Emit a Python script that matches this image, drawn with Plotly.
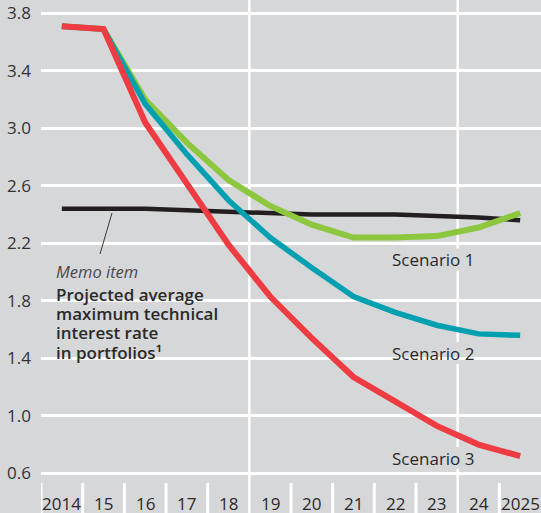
import plotly.graph_objects as go

years = [2014, 2015, 2016, 2017, 2018, 2019, 2020, 2021, 2022, 2023, 2024, 2025]
year_labels = ["2014", "15", "16", "17", "18", "19", "20", "21", "22", "23", "24", "2025"]

memo_line = [2.44, 2.44, 2.44, 2.43, 2.42, 2.41, 2.40, 2.40, 2.40, 2.39, 2.38, 2.36]
scenario1 = [3.71, 3.69, 3.20, 2.90, 2.64, 2.46, 2.33, 2.24, 2.24, 2.25, 2.31, 2.41]
scenario2 = [3.71, 3.69, 3.17, 2.82, 2.50, 2.24, 2.03, 1.83, 1.72, 1.63, 1.57, 1.56]
scenario3 = [3.71, 3.69, 3.04, 2.62, 2.19, 1.83, 1.54, 1.27, 1.10, 0.93, 0.80, 0.72]

y_ticks = [0.6, 1.0, 1.4, 1.8, 2.2, 2.6, 3.0, 3.4, 3.8]
y_tick_labels = ["0.6", "1.0", "1.4", "1.8", "2.2", "2.6", "3.0", "3.4", "3.8"]

scenario_labels = ["Scenario 1", "Scenario 2", "Scenario 3"]
memo_title = "Memo item"
memo_lines = ["Projected average", "maximum technical", "interest rate", "in portfolios\u00b9"]

BG = "#d6d7d9"
TXT = "#2b2a29"
FONT = "Open Sans"
W, H = 541, 513


def py(pix):
    return (H - pix) / H


def px(pix):
    return (pix - 41) / (W - 41)


fig = go.Figure()
fig.add_trace(go.Scatter(x=years, y=memo_line, mode="lines",
                         line=dict(color="#231f20", width=4.5), hoverinfo="skip"))
fig.add_trace(go.Scatter(x=years, y=scenario1, mode="lines",
                         line=dict(color="#8dc63f", width=6), hoverinfo="skip"))
fig.add_trace(go.Scatter(x=years, y=scenario2, mode="lines",
                         line=dict(color="#00a0b0", width=5.5), hoverinfo="skip"))
fig.add_trace(go.Scatter(x=years, y=scenario3, mode="lines",
                         line=dict(color="#ef3b42", width=6), hoverinfo="skip"))

shapes = []
full_lines = [2018.5, 2023.5]
for x in full_lines:
    shapes.append(dict(type="line", xref="x", yref="paper", x0=x, x1=x, y0=0, y1=1,
                       line=dict(color="white", width=2.5), layer="below"))
for yr in years:
    b = yr - 0.5
    if b in full_lines:
        continue
    shapes.append(dict(type="line", xref="x", yref="paper", x0=b, x1=b, y0=0, y1=py(483),
                       line=dict(color="white", width=3), layer="below"))


def knockout(x0, x1, y0, y1):
    shapes.append(dict(type="rect", xref="paper", yref="paper",
                       x0=px(x0), x1=px(x1), y0=py(y1), y1=py(y0),
                       fillcolor=BG, line=dict(width=0), layer="between"))


# backgrounds behind the scenario labels (gridlines interrupted)
scen_centers = [259.5, 353, 458]
for cy in scen_centers:
    knockout(433.5 - 46.5, 433.5 + 46.5, cy - 11, cy + 11)
# backgrounds behind the memo label lines crossing gridlines
knockout(53, 207, 286, 306)
knockout(53, 176, 344, 362)

# leader line from memo line to its label (with background halo)
shapes.append(dict(type="line", xref="paper", yref="paper",
                   x0=px(112), y0=py(213), x1=px(100), y1=py(254),
                   line=dict(color=BG, width=7), layer="between"))
shapes.append(dict(type="line", xref="paper", yref="paper",
                   x0=px(112), y0=py(213), x1=px(100), y1=py(254),
                   line=dict(color="#3a3a3a", width=1), layer="above"))

annotations = []
for yr, lab in zip(years, year_labels):
    annotations.append(dict(x=yr, y=py(503), xref="x", yref="paper",
                            text=lab, showarrow=False, xanchor="center", yanchor="middle",
                            font=dict(family=FONT, size=17, color=TXT)))

for text, cy in zip(scenario_labels, scen_centers):
    annotations.append(dict(x=px(433.5), y=py(cy), xref="paper", yref="paper",
                            text=text, showarrow=False, xanchor="center", yanchor="middle",
                            font=dict(family=FONT, size=17, color=TXT)))

annotations.append(dict(x=px(54), y=py(271), xref="paper", yref="paper",
                        text="<i>" + memo_title + "</i>", showarrow=False,
                        xanchor="left", yanchor="middle",
                        font=dict(family=FONT, size=16.5, color="#4a4a4a")))
for line_text, cy in zip(memo_lines, [294.5, 313.7, 332.5, 352.5]):
    annotations.append(dict(x=px(54), y=py(cy), xref="paper", yref="paper",
                            text=line_text, showarrow=False, xanchor="left", yanchor="middle",
                            font=dict(family=FONT, size=17, color=TXT, weight=600)))

fig.update_layout(
    width=W, height=H,
    margin=dict(l=41, r=0, t=0, b=0),
    paper_bgcolor=BG, plot_bgcolor=BG,
    showlegend=False,
    shapes=shapes, annotations=annotations,
    xaxis=dict(range=[2013.5, 2025.5], showgrid=False, zeroline=False,
               showticklabels=False, showline=False, fixedrange=True),
    yaxis=dict(range=[0.324, 3.8925], tickvals=y_ticks, ticktext=y_tick_labels,
               showgrid=True, gridcolor="white", gridwidth=2.5, zeroline=False,
               showline=False, ticks="", ticklabelstandoff=9,
               tickfont=dict(family=FONT, size=17, color="#333333"), fixedrange=True),
)

fig.write_html("out.html", config={"displayModeBar": False},
               post_script="document.body.style.margin='0px';document.body.style.overflow='hidden';")
